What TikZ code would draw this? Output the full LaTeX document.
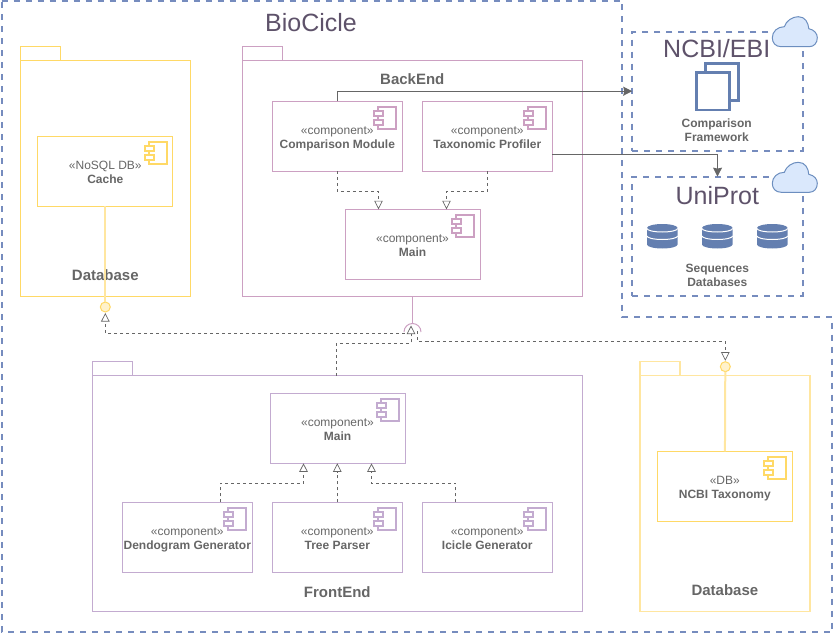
\documentclass[tikz,border=0pt]{standalone}
\usepackage{fontspec}
\setmainfont{Liberation Sans}
\usepackage{xcolor}
\usetikzlibrary{calc,arrows.meta,positioning}

\definecolor{BackPink}{RGB}{204, 160, 194}
\definecolor{FrontLilac}{RGB}{195, 171, 208}
\definecolor{StoreYellow}{RGB}{255, 217, 102}
\definecolor{StoreLine}{RGB}{255, 230, 160}
\definecolor{StoreFill}{RGB}{255, 242, 204}
\definecolor{CloudBlue}{RGB}{108, 142, 191}
\definecolor{CloudFill}{RGB}{218, 232, 252}
\definecolor{IconBlue}{RGB}{100, 127, 176}
\definecolor{BoundBlue}{RGB}{118, 140, 190}
\definecolor{LabelGray}{RGB}{102, 102, 102}
\definecolor{TitlePlum}{RGB}{94, 82, 106}

\tikzset{
    compicon/.pic={
        \draw[pic actions, line width=1.8pt, fill=white] (-24,6) rectangle (-6,28);
        \draw[pic actions, line width=1.8pt, fill=white] (-28,10) rectangle (-19,15);
        \draw[pic actions, line width=1.8pt, fill=white] (-28,19) rectangle (-19,24);
    },
    cloudicon/.pic={
        \draw[draw=CloudBlue, fill=CloudFill, line width=1pt] (9,30)
            .. controls (3,30) and (0,26) .. (0,21)
            .. controls (0,15) and (5,10) .. (12,10)
            .. controls (14,4) and (20,0) .. (26,0)
            .. controls (33,0) and (36,6) .. (36.5,12)
            .. controls (42,13) and (45,17) .. (45,21)
            .. controls (45,26) and (42,30) .. (37,30) -- cycle;
    },
    dbicon/.pic={
        \fill[IconBlue] (-15.3,4) arc[start angle=180, end angle=360, x radius=15.3, y radius=4]
            -- (15.3,20.5) arc[start angle=0, end angle=180, x radius=15.3, y radius=4] -- cycle;
        \draw[white, line width=1pt] (-15.3,4.5) arc[start angle=180, end angle=0, x radius=15.3, y radius=3.5];
        \draw[white, line width=1pt] (-15.3,12) arc[start angle=180, end angle=0, x radius=15.3, y radius=3.5];
    }
}

\begin{document}
\begin{tikzpicture}[
    x=1pt, y=-1pt,
    txt/.style={font=\fontsize{12}{14}\selectfont, text=LabelGray, align=center, inner sep=0pt},
    title/.style={font=\fontsize{15}{17}\selectfont\bfseries, text=LabelGray, inner sep=0pt},
    bigtitle/.style={font=\fontsize{25}{28}\selectfont, text=TitlePlum, inner sep=0pt},
    comp/.style={draw, line width=1pt, outer sep=0pt, minimum width=130pt, minimum height=70pt, txt, text height=27pt, text depth=3pt},
    package/.style={draw, line width=1pt, outer sep=0pt},
    pktab/.style={draw, line width=1pt, outer sep=0pt, inner sep=0pt, anchor=south west, minimum width=40pt, minimum height=14pt},
    cloudbox/.style={draw=BoundBlue, line width=2pt, dash pattern=on 6pt off 6pt, outer sep=0pt, minimum width=170.5pt},
    port/.style={circle, draw=StoreYellow, fill=StoreFill, line width=1pt, minimum size=10pt, inner sep=0pt, outer sep=0pt},
    real/.style={dash pattern=on 3pt off 3pt, draw=black!60, line width=0.7pt, -{Triangle[open, fill=white, length=8.5pt, width=8.5pt]}},
    feed/.style={draw=LabelGray, line width=1pt, -{Stealth[length=9pt, width=9pt, inset=1pt]}}
]
    \useasboundingbox (0,0) rectangle (840,639);

    % outer boundary
    \draw[draw=BoundBlue, line width=2pt, dash pattern=on 6pt off 6pt]
        (1.5,1.3) -- (622.3,1.3) -- (622.3,316.7) -- (832.3,316.7) -- (832.3,631.7) -- (1.5,631.7) -- cycle;
    \node[bigtitle] (biocicle) at (311,23) {BioCicle};

    % cloud side
    \node[cloudbox, minimum height=119pt] (ncbi) at (717.5,91.2) {};
    \node[cloudbox, minimum height=119.3pt] (uniprot) at (717.5,236.3) {};
    \pic at (772.3,16.7) {cloudicon};
    \pic at (772.3,162.3) {cloudicon};
    \node[bigtitle] (ncbititle) at (716.7,49) {NCBI/EBI};
    \node[bigtitle] (uniprottitle) at (717.3,196) {UniProt};

    \draw[draw=IconBlue, fill=white, line width=2.5pt] (705.7,63.3) rectangle (738.3,100.7);
    \draw[draw=IconBlue, fill=white, line width=2.5pt] (696.7,72.7) rectangle (729.3,110);
    \node[txt, font=\fontsize{12}{14}\selectfont\bfseries] (framework) at (716.7,130) {Comparison\\Framework};

    \foreach \x in {662.3,717.3,772.3}
        \pic at (\x,224) {dbicon};
    \node[txt, font=\fontsize{12}{14}\selectfont\bfseries] (seqdb) at (717.3,275) {Sequences\\Databases};

    % left database
    \node[package, draw=StoreYellow, minimum width=170pt, minimum height=236pt] (leftdb) at (105.3,178.3) {};
    \node[pktab, draw=StoreYellow] (leftdbtab) at (leftdb.north west) {};
    \node[comp, draw=StoreYellow, minimum width=135.3pt] (cache) at (105.3,171.3) {«NoSQL DB»\\\textbf{Cache}};
    \node[title] (leftdbtitle) at (105.3,275) {Database};
    \node[port] (cacheport) at (105.3,307) {};
    \draw[draw=StoreLine, line width=2pt] (cache) -- (cacheport);

    % back end
    \node[package, draw=BackPink, minimum width=340pt, minimum height=235.6pt] (backend) at (412.3,178.5) {};
    \node[pktab, draw=BackPink] (backendtab) at (backend.north west) {};
    \node[title] (backendtitle) at (412.3,79) {BackEnd};
    \node[comp, draw=BackPink] (cmpmod) at (337.3,136.3) {«component»\\\textbf{Comparison Module}};
    \node[comp, draw=BackPink, right=20pt of cmpmod] (taxprof) {«component»\\\textbf{Taxonomic Profiler}};
    \node[comp, draw=BackPink, minimum width=135pt] (bkmain) at (412.5,244.3) {«component»\\\textbf{Main}};
    \foreach \n in {cmpmod,taxprof,bkmain}
        \pic[draw=BackPink] at (\n.north east) {compicon};

    % front end
    \node[package, draw=FrontLilac, minimum width=490pt, minimum height=235.6pt] (frontend) at (337.3,493.5) {};
    \node[pktab, draw=FrontLilac] (frontendtab) at (frontend.north west) {};
    \node[title] (frontendtitle) at (337.3,591.7) {FrontEnd};
    \node[comp, draw=FrontLilac, minimum width=135pt] (femain) at (337.5,428.3) {«component»\\\textbf{Main}};
    \node[comp, draw=FrontLilac] (tree) at (337.3,537.3) {«component»\\\textbf{Tree Parser}};
    \node[comp, draw=FrontLilac, left=20pt of tree] (dendo) {«component»\\\textbf{Dendogram Generator}};
    \node[comp, draw=FrontLilac, right=20pt of tree] (icicle) {«component»\\\textbf{Icicle Generator}};
    \foreach \n in {femain,tree,dendo,icicle}
        \pic[draw=FrontLilac] at (\n.north east) {compicon};

    % right database
    \node[package, draw=StoreLine, line width=1.5pt, minimum width=170.3pt, minimum height=236pt] (rightdb) at (724.9,493.3) {};
    \node[pktab, draw=StoreLine, line width=1.5pt] (rightdbtab) at (rightdb.north west) {};
    \node[comp, draw=StoreYellow, minimum width=135pt] (ncbitax) at (724.8,486.3) {«DB»\\\textbf{NCBI Taxonomy}};
    \node[title] (rightdbtitle) at (724.9,590) {Database};
    \node[port] (taxport) at (725.3,366.7) {};
    \draw[draw=StoreLine, line width=2pt] (taxport) -- (ncbitax);
    \foreach \n in {cache,ncbitax}
        \pic[draw=StoreYellow] at (\n.north east) {compicon};

    % provided interface below the back end
    \coordinate (bkport) at (412.5,332);
    \coordinate (bkarrow) at (411,325.5);
    \coordinate (bkleft) at (405,333.3);
    \coordinate (bkright) at (417.5,331);
    \coordinate (feup) at (336.3,343.3);
    \draw[draw=BackPink, line width=1pt] (backend.south -| bkport) -- ([yshift=8.5pt]bkport);
    \draw[draw=BackPink, line width=1pt] ([xshift=-8.5pt]bkport) arc[start angle=180, end angle=360, radius=8.5];

    % connectors
    \draw[feed] (cmpmod.north) |- (ncbi);
    \draw[feed] ([yshift=-18pt]taxprof.east) -| (uniprot.north);
    \draw[real] (cmpmod.south) -- ++(0,20.4) -| ([xshift=-34pt]bkmain.north);
    \draw[real] (taxprof.south) -- ++(0,20.4) -| ([xshift=34pt]bkmain.north);
    \draw[real] ([xshift=33pt]dendo.north) -- ++(0,-19) -| ([xshift=-34pt]femain.south);
    \draw[real] (tree.north) -- (femain.south -| tree.north);
    \draw[real] ([xshift=-31.6pt]icicle.north) -- ++(0,-19) -| ([xshift=34pt]femain.south);
    \draw[real] (bkleft) -| ([yshift=-1pt]cacheport.south);
    \draw[real] (frontend.north -| feup) -- (feup) -| (bkarrow);
    \draw[real] (bkright) |- ++(10,10.7) -| ([yshift=1pt]taxport.north);
\end{tikzpicture}
\end{document}
